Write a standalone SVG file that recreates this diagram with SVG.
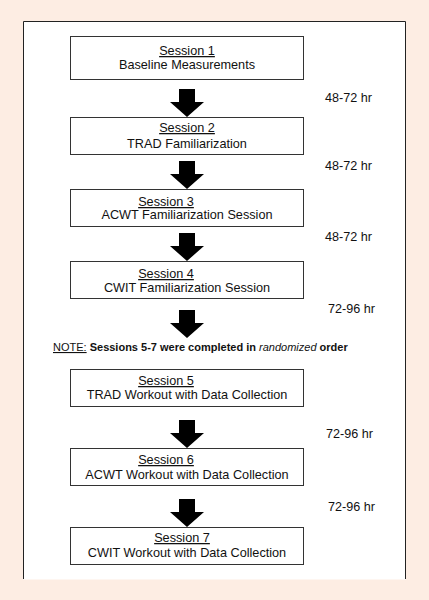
<svg xmlns="http://www.w3.org/2000/svg" width="429" height="600" viewBox="0 0 429 600">
<style>
.box{fill:#fff;stroke:#333;stroke-width:1}
.t{font-family:"Liberation Sans",Arial,sans-serif;font-size:12.7px;fill:#111}
.u{text-decoration:underline}
.lbl{font-family:"Liberation Sans",Arial,sans-serif;font-size:12.6px;fill:#111}
.arr{fill:#000}
</style>
<defs>
<path id="arrow" d="M-8,0 H8 V13 H17 L0,28 L-17,13 H-8 Z"/>
</defs>
<rect x="0" y="0" width="429" height="600" fill="#fdede3"/>
<rect x="23.5" y="21.5" width="382.5" height="558" fill="#fff"/>
<path d="M23.5,579 V21.5 H405.5 V579" fill="none" stroke="#222" stroke-width="1"/>

<g id="connectors">
<use href="#arrow" class="arr" x="187" y="89"/>
<use href="#arrow" class="arr" x="187" y="161"/>
<use href="#arrow" class="arr" x="187" y="233"/>
<use href="#arrow" class="arr" x="187" y="310"/>
<use href="#arrow" class="arr" x="187" y="420"/>
<use href="#arrow" class="arr" x="187" y="499"/>
<text class="lbl" x="325" y="102">48-72 hr</text>
<text class="lbl" x="325" y="170">48-72 hr</text>
<text class="lbl" x="325" y="241">48-72 hr</text>
<text class="lbl" x="328" y="313">72-96 hr</text>
<text class="lbl" x="326" y="438">72-96 hr</text>
<text class="lbl" x="328" y="511">72-96 hr</text>
</g>

<g id="session1">
<rect class="box" x="70.5" y="36.5" width="233" height="43"/>
<text class="t u" x="187" y="55" text-anchor="middle">Session 1</text>
<text class="t" x="187" y="69" text-anchor="middle">Baseline Measurements</text>
</g>
<g id="session2">
<rect class="box" x="70.5" y="117.5" width="233" height="37"/>
<text class="t u" x="187" y="132" text-anchor="middle">Session 2</text>
<text class="t" x="187" y="148" text-anchor="middle">TRAD Familiarization</text>
</g>
<g id="session3">
<rect class="box" x="70.5" y="189.5" width="233" height="37"/>
<text class="t u" x="166" y="206" text-anchor="middle">Session 3</text>
<text class="t" x="187" y="219" text-anchor="middle">ACWT Familiarization Session</text>
</g>
<g id="session4">
<rect class="box" x="70.5" y="261.5" width="233" height="37"/>
<text class="t u" x="166" y="278" text-anchor="middle">Session 4</text>
<text class="t" x="187" y="292" text-anchor="middle">CWIT Familiarization Session</text>
</g>
<g id="note">
<text x="53" y="351" style="font-family:'Liberation Sans',Arial,sans-serif;font-size:11px;fill:#111"><tspan class="u">NOTE:</tspan><tspan font-weight="bold"> Sessions 5-7 were completed in </tspan><tspan font-style="italic">randomized</tspan><tspan font-weight="bold"> order</tspan></text>
</g>
<g id="session5">
<rect class="box" x="70.5" y="369.5" width="233" height="37"/>
<text class="t u" x="166" y="385" text-anchor="middle">Session 5</text>
<text class="t" x="187" y="399" text-anchor="middle">TRAD Workout with Data Collection</text>
</g>
<g id="session6">
<rect class="box" x="70.5" y="448.5" width="233" height="37"/>
<text class="t u" x="166" y="464" text-anchor="middle">Session 6</text>
<text class="t" x="187" y="479" text-anchor="middle">ACWT Workout with Data Collection</text>
</g>
<g id="session7">
<rect class="box" x="70.5" y="527.5" width="233" height="37"/>
<text class="t u" x="182" y="542" text-anchor="middle">Session 7</text>
<text class="t" x="187" y="557" text-anchor="middle">CWIT Workout with Data Collection</text>
</g>
</svg>
